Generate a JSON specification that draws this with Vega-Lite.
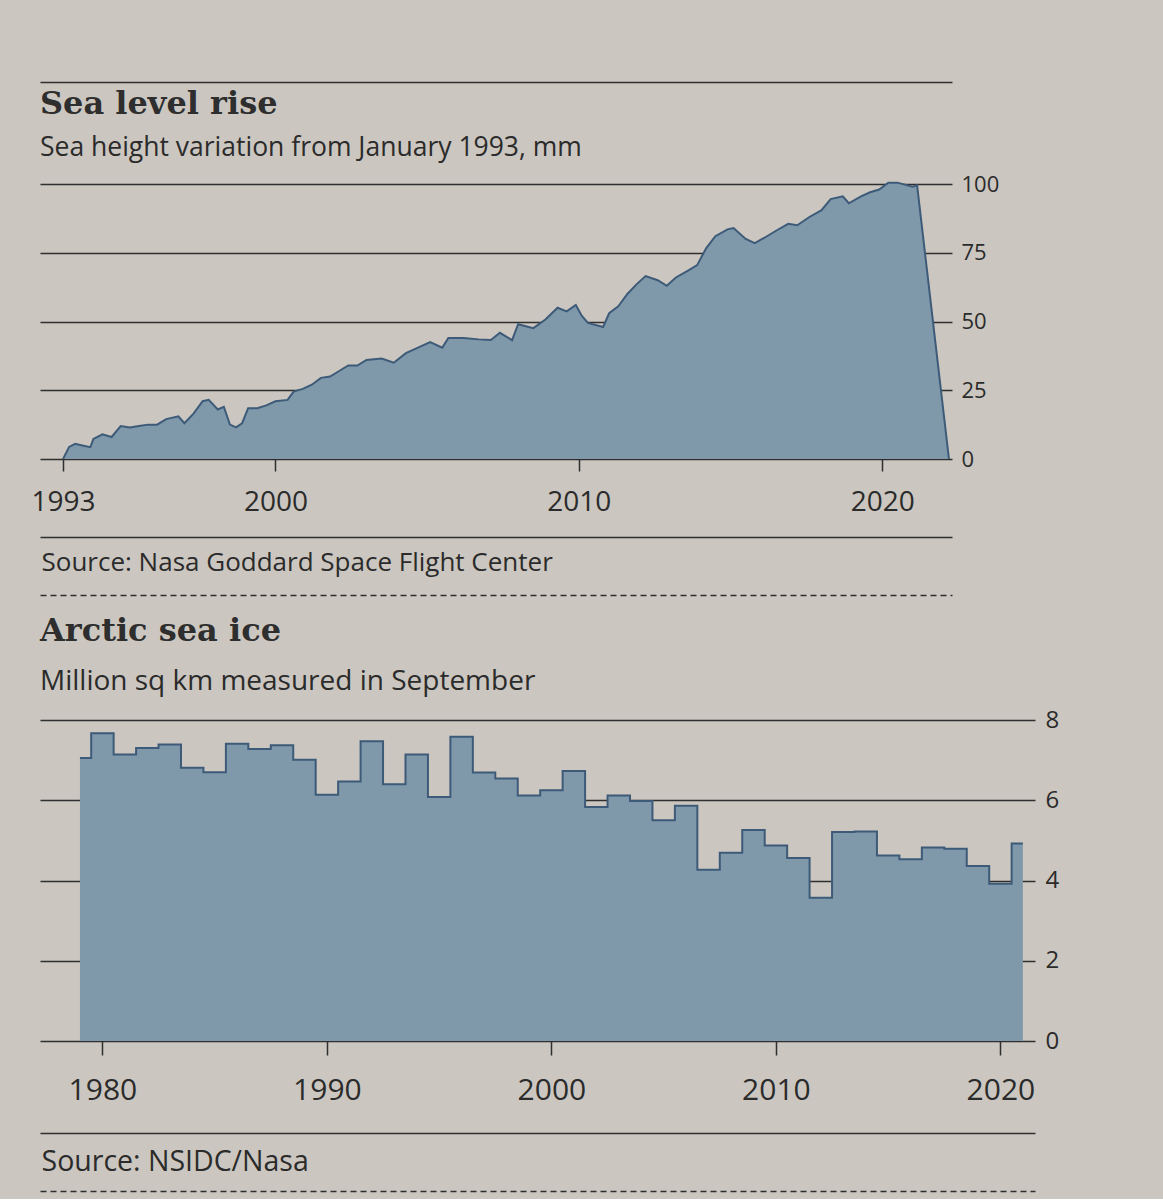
{
  "$schema": "https://vega.github.io/schema/vega-lite/v6.json",
  "background": "#cbc7c0",
  "padding": {"left": 31, "top": 82, "right": 118, "bottom": 8},
  "spacing": 20,
  "config": {
    "view": {"stroke": null},
    "axis": {"labelFont": "Open Sans", "labelColor": "#2b2b2b", "titleFont": "Open Sans", "titleColor": "#2b2b2b", "titleFontWeight": "normal"},
    "title": {"font": "DejaVu Serif", "fontWeight": "bold", "fontSize": 32, "color": "#2e2e2e", "subtitleFont": "Open Sans", "subtitleColor": "#2b2b2b", "anchor": "start", "frame": "group", "dx": 0}
  },
  "datasets": {
    "sea": [
      {"year": 1993.0, "mm": 0}, {"year": 1993.2, "mm": 4.4}, {"year": 1993.4, "mm": 5.5}, {"year": 1993.6, "mm": 5},
      {"year": 1993.9, "mm": 4.3}, {"year": 1994.0, "mm": 7.3}, {"year": 1994.3, "mm": 9}, {"year": 1994.6, "mm": 8},
      {"year": 1994.9, "mm": 12}, {"year": 1995.2, "mm": 11.5}, {"year": 1995.5, "mm": 12}, {"year": 1995.8, "mm": 12.5},
      {"year": 1996.1, "mm": 12.5}, {"year": 1996.4, "mm": 14.5}, {"year": 1996.8, "mm": 15.5}, {"year": 1997.0, "mm": 13},
      {"year": 1997.3, "mm": 16.5}, {"year": 1997.6, "mm": 21}, {"year": 1997.8, "mm": 21.5}, {"year": 1998.1, "mm": 18},
      {"year": 1998.3, "mm": 19}, {"year": 1998.5, "mm": 12.5}, {"year": 1998.7, "mm": 11.5}, {"year": 1998.9, "mm": 13},
      {"year": 1999.1, "mm": 18.5}, {"year": 1999.4, "mm": 18.5}, {"year": 1999.7, "mm": 19.5}, {"year": 2000.0, "mm": 21},
      {"year": 2000.4, "mm": 21.5}, {"year": 2000.6, "mm": 24.5}, {"year": 2000.9, "mm": 25.5}, {"year": 2001.2, "mm": 27},
      {"year": 2001.5, "mm": 29.5}, {"year": 2001.8, "mm": 30}, {"year": 2002.1, "mm": 32}, {"year": 2002.4, "mm": 34},
      {"year": 2002.7, "mm": 34}, {"year": 2003.0, "mm": 36}, {"year": 2003.5, "mm": 36.5}, {"year": 2003.9, "mm": 35},
      {"year": 2004.3, "mm": 38.5}, {"year": 2004.7, "mm": 40.5}, {"year": 2005.1, "mm": 42.5}, {"year": 2005.5, "mm": 40.5},
      {"year": 2005.7, "mm": 44}, {"year": 2006.2, "mm": 44}, {"year": 2006.7, "mm": 43.5}, {"year": 2007.1, "mm": 43.3},
      {"year": 2007.4, "mm": 45.9}, {"year": 2007.8, "mm": 43.2}, {"year": 2008.0, "mm": 49}, {"year": 2008.5, "mm": 47.6},
      {"year": 2008.9, "mm": 50.7}, {"year": 2009.3, "mm": 55}, {"year": 2009.6, "mm": 53.7}, {"year": 2009.9, "mm": 56},
      {"year": 2010.1, "mm": 52}, {"year": 2010.3, "mm": 49.5}, {"year": 2010.8, "mm": 48}, {"year": 2011.0, "mm": 53},
      {"year": 2011.3, "mm": 55.5}, {"year": 2011.6, "mm": 60}, {"year": 2011.9, "mm": 63.5}, {"year": 2012.2, "mm": 66.5},
      {"year": 2012.6, "mm": 65}, {"year": 2012.9, "mm": 63}, {"year": 2013.2, "mm": 66}, {"year": 2013.6, "mm": 68.5},
      {"year": 2013.9, "mm": 70.5}, {"year": 2014.2, "mm": 76.7}, {"year": 2014.5, "mm": 81}, {"year": 2014.9, "mm": 83.5},
      {"year": 2015.1, "mm": 84}, {"year": 2015.5, "mm": 80}, {"year": 2015.8, "mm": 78.5}, {"year": 2016.2, "mm": 81},
      {"year": 2016.5, "mm": 83}, {"year": 2016.9, "mm": 85.5}, {"year": 2017.2, "mm": 85}, {"year": 2017.6, "mm": 88},
      {"year": 2018.0, "mm": 90.5}, {"year": 2018.3, "mm": 94.5}, {"year": 2018.7, "mm": 95.5}, {"year": 2018.9, "mm": 93},
      {"year": 2019.3, "mm": 95.5}, {"year": 2019.6, "mm": 97}, {"year": 2019.9, "mm": 98}, {"year": 2020.2, "mm": 100.5},
      {"year": 2020.5, "mm": 100.5}, {"year": 2021.0, "mm": 99}, {"year": 2021.15, "mm": 99.5}, {"year": 2022.2, "mm": 0}
    ],
    "ice": [
      {"year": 1979, "extent": 7.05}, {"year": 1980, "extent": 7.67}, {"year": 1981, "extent": 7.14}, {"year": 1982, "extent": 7.30},
      {"year": 1983, "extent": 7.39}, {"year": 1984, "extent": 6.81}, {"year": 1985, "extent": 6.70}, {"year": 1986, "extent": 7.41},
      {"year": 1987, "extent": 7.28}, {"year": 1988, "extent": 7.37}, {"year": 1989, "extent": 7.01}, {"year": 1990, "extent": 6.14},
      {"year": 1991, "extent": 6.47}, {"year": 1992, "extent": 7.47}, {"year": 1993, "extent": 6.40}, {"year": 1994, "extent": 7.14},
      {"year": 1995, "extent": 6.08}, {"year": 1996, "extent": 7.58}, {"year": 1997, "extent": 6.69}, {"year": 1998, "extent": 6.54},
      {"year": 1999, "extent": 6.12}, {"year": 2000, "extent": 6.25}, {"year": 2001, "extent": 6.73}, {"year": 2002, "extent": 5.83},
      {"year": 2003, "extent": 6.12}, {"year": 2004, "extent": 5.98}, {"year": 2005, "extent": 5.50}, {"year": 2006, "extent": 5.86},
      {"year": 2007, "extent": 4.27}, {"year": 2008, "extent": 4.69}, {"year": 2009, "extent": 5.26}, {"year": 2010, "extent": 4.87},
      {"year": 2011, "extent": 4.56}, {"year": 2012, "extent": 3.57}, {"year": 2013, "extent": 5.21}, {"year": 2014, "extent": 5.22},
      {"year": 2015, "extent": 4.62}, {"year": 2016, "extent": 4.53}, {"year": 2017, "extent": 4.82}, {"year": 2018, "extent": 4.79},
      {"year": 2019, "extent": 4.36}, {"year": 2020, "extent": 3.92}, {"year": 2021, "extent": 4.92}
    ]
  },
  "vconcat": [
    {
      "width": 912,
      "height": 275,
      "title": {"text": "Sea level rise", "subtitle": "Sea height variation from January 1993, mm", "offset": -80, "subtitleFontSize": 26.5, "subtitlePadding": 14},
      "data": {"name": "sea"},
      "layer": [
        {
          "mark": {"type": "area", "color": "#7f99ab", "opacity": 1, "interpolate": "linear", "line": {"color": "#3d5b78", "strokeWidth": 2}},
          "encoding": {
            "x": {"field": "year", "type": "quantitative", "scale": {"domain": [1992.24, 2022.3], "nice": false, "zero": false},
              "axis": {"orient": "bottom", "values": [1993, 2000, 2010, 2020], "format": "d", "tickSize": 12, "tickColor": "#2f2f2f", "tickWidth": 1.5, "labelPadding": 17, "labelFontSize": 28, "domain": false, "grid": false, "title": null}},
            "y": {"field": "mm", "type": "quantitative", "scale": {"domain": [0, 100], "nice": false},
              "axis": {"orient": "right", "values": [0, 25, 50, 75, 100], "grid": true, "gridColor": "#2f2f2f", "gridWidth": 1.5, "gridOpacity": 1, "domain": false, "ticks": false, "labelPadding": 9, "labelFontSize": 22, "title": null}}
          }
        },
        {
          "mark": {"type": "point", "opacity": 0},
          "encoding": {
            "x": {"field": "year", "type": "quantitative",
              "axis": {"orient": "top", "offset": 102, "domain": true, "domainColor": "#2f2f2f", "domainWidth": 1.5, "labels": false, "ticks": false, "grid": false, "title": null}},
            "y": {"field": "mm", "type": "quantitative", "axis": null}
          }
        },
        {
          "mark": {"type": "point", "opacity": 0},
          "encoding": {
            "x": {"field": "year", "type": "quantitative",
              "axis": {"orient": "bottom", "offset": 78, "domain": true, "domainColor": "#2f2f2f", "domainWidth": 1.5, "labels": false, "ticks": false, "grid": false,
                "title": "Source: Nasa Goddard Space Flight Center", "titleAnchor": "start", "titleAlign": "left", "titleBaseline": "top", "titleX": 1, "titleY": 12, "titleFontSize": 26}},
            "y": {"field": "mm", "type": "quantitative", "axis": null}
          }
        },
        {
          "mark": {"type": "point", "opacity": 0},
          "encoding": {
            "x": {"field": "year", "type": "quantitative",
              "axis": {"orient": "bottom", "offset": 136, "domain": true, "domainColor": "#2f2f2f", "domainWidth": 1.5, "domainDash": [6, 4], "labels": false, "ticks": false, "grid": false, "title": null}},
            "y": {"field": "mm", "type": "quantitative", "axis": null}
          }
        }
      ],
      "resolve": {"axis": {"x": "independent", "y": "independent"}}
    },
    {
      "width": 995,
      "height": 321,
      "title": {"text": "Arctic sea ice", "subtitle": "Million sq km measured in September", "offset": 11, "subtitleFontSize": 28, "subtitlePadding": 20},
      "data": {"name": "ice"},
      "layer": [
        {
          "mark": {"type": "area", "color": "#7f99ab", "opacity": 1, "interpolate": "step", "line": {"color": "#3d5b78", "strokeWidth": 2}},
          "encoding": {
            "x": {"field": "year", "type": "quantitative", "scale": {"domain": [1977.22, 2021.54], "nice": false, "zero": false},
              "axis": {"orient": "bottom", "values": [1980, 1990, 2000, 2010, 2020], "format": "d", "tickSize": 14, "tickColor": "#2f2f2f", "tickWidth": 1.5, "labelPadding": 20, "labelFontSize": 30, "domain": false, "grid": false, "title": null}},
            "y": {"field": "extent", "type": "quantitative", "scale": {"domain": [0, 8], "nice": false},
              "axis": {"orient": "right", "values": [0, 2, 4, 6, 8], "grid": true, "gridColor": "#2f2f2f", "gridWidth": 1.5, "gridOpacity": 1, "domain": false, "ticks": false, "labelPadding": 10, "labelFontSize": 24, "title": null}}
          }
        },
        {
          "mark": {"type": "point", "opacity": 0},
          "encoding": {
            "x": {"field": "year", "type": "quantitative",
              "axis": {"orient": "bottom", "offset": 92, "domain": true, "domainColor": "#2f2f2f", "domainWidth": 1.5, "labels": false, "ticks": false, "grid": false,
                "title": "Source: NSIDC/Nasa", "titleAnchor": "start", "titleAlign": "left", "titleBaseline": "top", "titleX": 1, "titleY": 14, "titleFontSize": 28.5}},
            "y": {"field": "extent", "type": "quantitative", "axis": null}
          }
        },
        {
          "mark": {"type": "point", "opacity": 0},
          "encoding": {
            "x": {"field": "year", "type": "quantitative",
              "axis": {"orient": "bottom", "offset": 150, "domain": true, "domainColor": "#2f2f2f", "domainWidth": 1.5, "domainDash": [6, 4], "labels": false, "ticks": false, "grid": false, "title": null}},
            "y": {"field": "extent", "type": "quantitative", "axis": null}
          }
        }
      ],
      "resolve": {"axis": {"x": "independent", "y": "independent"}}
    }
  ]
}
